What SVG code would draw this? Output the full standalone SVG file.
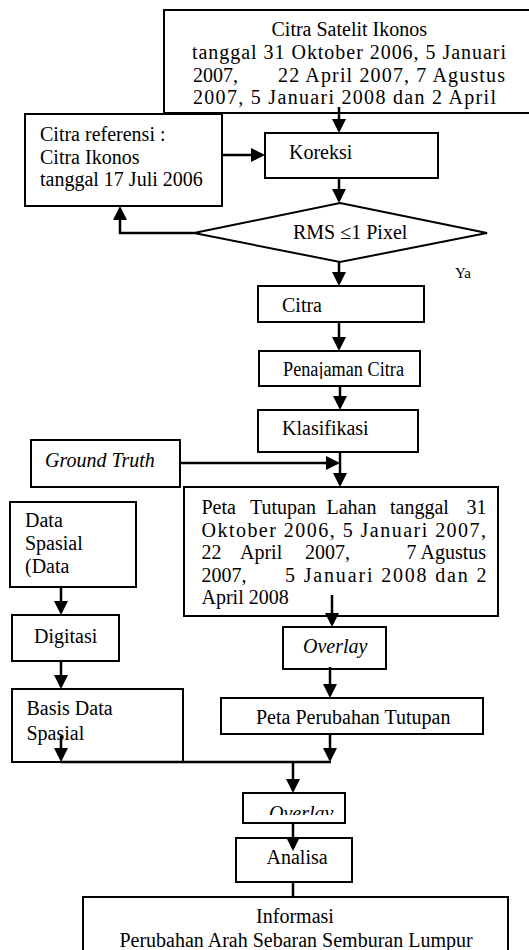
<svg xmlns="http://www.w3.org/2000/svg" width="529" height="950" viewBox="0 0 529 950">
<style>
.box{fill:#fff;stroke:#000;stroke-width:2}
.t{font-family:"Liberation Serif","Times New Roman",serif;font-size:20px;fill:#000}
.i{font-style:italic}
.c{fill:none;stroke:#000;stroke-width:2.5}
.a{marker-end:url(#ah)}
</style>
<defs>
<marker id="ah" markerUnits="userSpaceOnUse" markerWidth="14" markerHeight="14" viewBox="0 0 14 14" refX="11" refY="7" orient="auto">
<path d="M0,0 L14,7 L0,14 z" fill="#000"/>
</marker>
<clipPath id="clipPen"><rect x="259" y="351" width="161" height="28"/></clipPath>
<clipPath id="clipOv2"><rect x="243" y="793" width="102" height="22"/></clipPath>
</defs>

<g id="citra-satelit">
<rect class="box" x="164" y="10" width="380" height="103"/>
<text class="t" x="271.5" y="36">Citra Satelit Ikonos</text>
<text class="t" x="192" y="59" textLength="314" lengthAdjust="spacing">tanggal 31 Oktober 2006, 5 Januari</text>
<text class="t" x="193" y="82">2007,</text>
<text class="t" x="278" y="82" textLength="227" lengthAdjust="spacing">22 April 2007, 7 Agustus</text>
<text class="t" x="193" y="104" textLength="303" lengthAdjust="spacing">2007, 5 Januari 2008 dan 2 April</text>
</g>

<g id="citra-referensi">
<rect class="box" x="25" y="114" width="197" height="92"/>
<text class="t" x="40" y="141">Citra referensi :</text>
<text class="t" x="40" y="163.5">Citra Ikonos</text>
<text class="t" x="40" y="186">tanggal 17 Juli 2006</text>
</g>

<g id="koreksi">
<rect class="box" x="265" y="133" width="173" height="45"/>
<text class="t" x="289" y="159">Koreksi</text>
</g>

<g id="rms">
<polygon class="box" points="340,203 487,233 340,262 194,233"/>
<text class="t" x="293" y="239">RMS ≤1 Pixel</text>
</g>

<g id="ya">
<text class="t" x="455" y="278" style="font-size:15px">Ya</text>
</g>

<g id="citra">
<rect class="box" x="258" y="286" width="166" height="36"/>
<text class="t" x="282" y="312">Citra</text>
</g>

<g id="penajaman">
<rect class="box" x="259" y="351" width="161" height="35"/>
<text class="t" x="283" y="376" clip-path="url(#clipPen)" textLength="121" lengthAdjust="spacingAndGlyphs">Penajaman Citra</text>
</g>

<g id="klasifikasi">
<rect class="box" x="258" y="410" width="160" height="42"/>
<text class="t" x="282" y="435">Klasifikasi</text>
</g>

<g id="ground-truth">
<rect class="box" x="31" y="440" width="149" height="47"/>
<text class="t i" x="45" y="466.5">Ground Truth</text>
</g>

<g id="peta-tutupan">
<rect class="box" x="184" y="487" width="314" height="129"/>
<text class="t" y="514"><tspan x="201.5">Peta</tspan><tspan x="250">Tutupan</tspan><tspan x="326.5">Lahan</tspan><tspan x="390">tanggal</tspan><tspan x="466.5">31</tspan></text>
<text class="t" x="201.5" y="536.5" textLength="284.5" lengthAdjust="spacing">Oktober 2006, 5 Januari 2007,</text>
<text class="t" y="559"><tspan x="201.5">22</tspan><tspan x="240">April</tspan><tspan x="305">2007,</tspan><tspan x="406.5">7</tspan><tspan x="420.5">Agustus</tspan></text>
<text class="t" y="581.5"><tspan x="201.5">2007,</tspan></text>
<text class="t" x="285" y="581.5" textLength="201.5" lengthAdjust="spacing">5 Januari 2008 dan 2</text>
<text class="t" x="201.5" y="604">April 2008</text>
</g>

<g id="data-spasial">
<rect class="box" x="10" y="502" width="126" height="85"/>
<text class="t" x="25" y="527">Data</text>
<text class="t" x="25" y="550">Spasial</text>
<text class="t" x="25" y="573">(Data</text>
</g>

<g id="digitasi">
<rect class="box" x="12" y="615" width="107" height="46"/>
<text class="t" x="34" y="643">Digitasi</text>
</g>

<g id="basis-data">
<rect class="box" x="12" y="689" width="171" height="73"/>
<text class="t" x="26.5" y="715">Basis Data</text>
<text class="t" x="26.5" y="739.5">Spasial</text>
</g>

<g id="overlay-1">
<rect class="box" x="283" y="627" width="103" height="42"/>
<text class="t i" x="303" y="653">Overlay</text>
</g>

<g id="peta-perubahan">
<rect class="box" x="221" y="698" width="262" height="36"/>
<text class="t" x="256" y="724">Peta Perubahan Tutupan</text>
</g>

<g id="overlay-2">
<rect class="box" x="243" y="793" width="102" height="30"/>
<text class="t i" x="269" y="820" clip-path="url(#clipOv2)">Overlay</text>
</g>

<g id="analisa">
<rect class="box" x="236" y="838" width="116" height="44"/>
<text class="t" x="266.5" y="864">Analisa</text>
</g>

<g id="informasi">
<rect class="box" x="83" y="897" width="425" height="70"/>
<text class="t" x="295" y="923" text-anchor="middle">Informasi</text>
<text class="t" x="296" y="946.5" text-anchor="middle">Perubahan Arah Sebaran Semburan Lumpur</text>
</g>

<g id="connectors">
<line class="c a" x1="339" y1="107" x2="339" y2="130"/>
<line class="c a" x1="222" y1="155" x2="262" y2="155"/>
<line class="c a" x1="339" y1="178" x2="339" y2="200"/>
<polyline class="c a" points="194,233 120,233 120,209"/>
<line class="c a" x1="339" y1="262" x2="339" y2="283"/>
<line class="c a" x1="339" y1="322" x2="339" y2="348"/>
<line class="c a" x1="340" y1="386" x2="340" y2="407"/>
<line class="c a" x1="180" y1="463" x2="337" y2="463"/>
<line class="c a" x1="340" y1="452" x2="340" y2="484"/>
<line class="c a" x1="61" y1="587" x2="61" y2="612"/>
<line class="c a" x1="61" y1="661" x2="61" y2="686"/>
<line class="c a" x1="332" y1="595" x2="332" y2="624"/>
<line class="c a" x1="330" y1="667" x2="330" y2="695"/>
<line class="c a" x1="61" y1="736" x2="61" y2="759"/>
<line class="c a" x1="330" y1="734" x2="330" y2="759"/>
<line class="c" x1="61" y1="762" x2="331" y2="762"/>
<line class="c a" x1="293" y1="762" x2="293" y2="790"/>
<line class="c a" x1="293" y1="823" x2="293" y2="848"/>
<line class="c" x1="293" y1="882" x2="293" y2="897"/>
</g>
</svg>
